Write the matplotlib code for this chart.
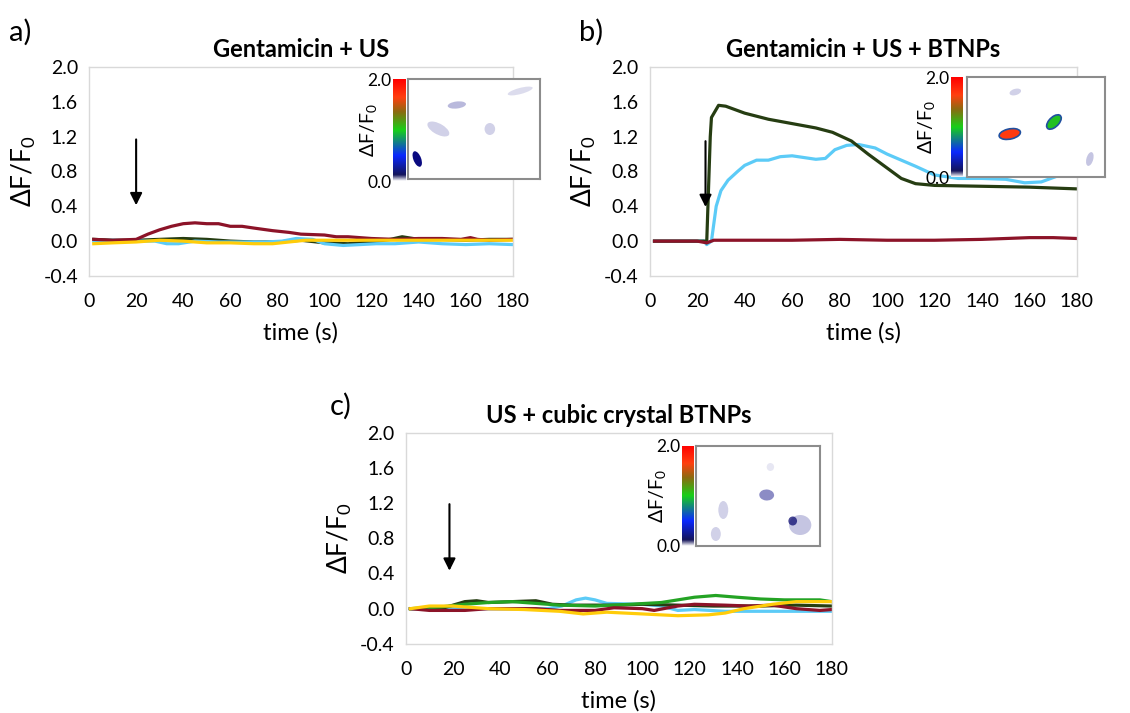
import numpy as np
import matplotlib.pyplot as plt
from matplotlib.colors import LinearSegmentedColormap
from matplotlib.patches import Ellipse

plt.rcParams['font.family'] = ['Lato', 'DejaVu Sans']
plt.rcParams['mathtext.fontset'] = 'custom'
plt.rcParams['mathtext.rm'] = 'Lato'
plt.rcParams['mathtext.it'] = 'Lato'

# colours of the traces
RED = "#8c1328"
DKGREEN = "#263d12"
BLUE = "#5ccbf7"
YELLOW = "#ffcc0a"
GREEN = "#24a324"

# ---- panel a: Gentamicin + US ----
a_red_t = [2, 10, 20, 25, 30, 35, 40, 45, 50, 55, 60, 65, 70, 78, 85, 90, 100, 105, 110, 120, 130, 140, 150, 158, 162, 165, 170, 180]
a_red_y = [0.02, 0.01, 0.02, 0.08, 0.13, 0.17, 0.20, 0.21, 0.20, 0.20, 0.17, 0.17, 0.15, 0.12, 0.10, 0.08, 0.07, 0.05, 0.05, 0.03, 0.02, 0.03, 0.03, 0.02, 0.04, 0.02, 0.01, 0.02]
a_dkg_t = [2, 10, 20, 30, 40, 50, 60, 70, 80, 90, 100, 110, 120, 128, 133, 140, 150, 160, 170, 180]
a_dkg_y = [0.02, 0.01, 0.01, 0.02, 0.03, 0.02, 0.00, -0.01, -0.01, 0.01, -0.02, -0.03, -0.01, 0.02, 0.05, 0.02, 0.02, 0.01, 0.02, 0.02]
a_blu_t = [2, 10, 20, 28, 33, 38, 45, 55, 65, 75, 82, 88, 95, 100, 108, 115, 122, 130, 140, 150, 160, 170, 180]
a_blu_y = [0.00, 0.01, 0.00, 0.00, -0.03, -0.03, 0.00, -0.01, -0.01, -0.01, 0.00, 0.03, 0.02, -0.03, -0.05, -0.04, -0.03, -0.03, -0.01, -0.03, -0.04, -0.03, -0.04]
a_yel_t = [2, 10, 20, 30, 40, 50, 60, 70, 78, 85, 92, 100, 120, 140, 160, 180]
a_yel_y = [-0.03, -0.02, -0.01, 0.01, 0.00, -0.02, -0.02, -0.03, -0.03, -0.01, 0.01, 0.01, 0.01, 0.01, 0.01, 0.01]

# ---- panel b: Gentamicin + US + BTNPs ----
b_red_t = [2, 20, 24, 27, 40, 60, 80, 100, 120, 140, 150, 160, 170, 180]
b_red_y = [0.00, 0.00, -0.02, 0.01, 0.01, 0.01, 0.02, 0.01, 0.01, 0.02, 0.03, 0.04, 0.04, 0.03]
b_dkg_t = [2, 20, 23, 24, 25.5, 26, 29, 32, 40, 50, 60, 70, 77, 85, 92, 100, 106, 112, 120, 140, 160, 180]
b_dkg_y = [0.00, 0.00, 0.00, -0.02, 1.20, 1.42, 1.56, 1.55, 1.47, 1.40, 1.35, 1.30, 1.25, 1.15, 1.00, 0.84, 0.72, 0.66, 0.64, 0.63, 0.62, 0.60]
b_blu_t = [2, 20, 23, 24, 26, 28, 30, 33, 37, 40, 45, 50, 55, 60, 65, 70, 74, 78, 83, 88, 95, 100, 106, 112, 120, 130, 140, 150, 158, 165, 172, 176, 180]
b_blu_y = [0.00, 0.00, 0.00, -0.04, 0.00, 0.40, 0.58, 0.70, 0.80, 0.87, 0.93, 0.93, 0.97, 0.98, 0.96, 0.94, 0.95, 1.05, 1.10, 1.11, 1.07, 1.00, 0.93, 0.86, 0.76, 0.72, 0.72, 0.71, 0.67, 0.68, 0.75, 0.84, 0.91]

# ---- panel c: US + cubic crystal BTNPs ----
c_dkg_t = [2, 15, 25, 30, 35, 45, 55, 62, 70, 90, 100, 115, 130, 150, 165, 180]
c_dkg_y = [0.00, 0.00, 0.08, 0.09, 0.07, 0.08, 0.09, 0.05, 0.04, 0.04, 0.05, 0.04, 0.03, 0.03, 0.04, 0.03]
c_grn_t = [2, 15, 25, 35, 45, 55, 65, 80, 95, 108, 115, 122, 131, 140, 150, 160, 175, 180]
c_grn_y = [0.00, 0.02, 0.05, 0.07, 0.08, 0.06, 0.04, 0.03, 0.05, 0.07, 0.10, 0.13, 0.15, 0.13, 0.11, 0.10, 0.10, 0.08]
c_blu_t = [2, 30, 60, 66, 72, 76, 80, 85, 100, 108, 115, 122, 135, 160, 180]
c_blu_y = [0.00, 0.00, 0.00, 0.03, 0.10, 0.12, 0.10, 0.06, 0.05, 0.03, -0.02, -0.01, -0.03, -0.03, -0.03]
c_red_t = [2, 10, 25, 35, 55, 65, 80, 88, 100, 105, 115, 122, 135, 145, 155, 165, 175, 180]
c_red_y = [0.00, -0.02, -0.02, 0.00, 0.00, -0.02, -0.02, 0.01, 0.00, -0.02, 0.03, 0.05, 0.04, 0.03, 0.04, 0.00, -0.02, -0.01]
c_yel_t = [2, 10, 20, 35, 50, 65, 75, 85, 100, 115, 128, 135, 143, 155, 165, 180]
c_yel_y = [0.00, 0.03, 0.03, 0.00, -0.01, -0.03, -0.06, -0.04, -0.06, -0.08, -0.07, -0.05, 0.00, 0.05, 0.08, 0.08]

xticks = np.arange(0, 181, 20)
yticks = [-0.4, 0.0, 0.4, 0.8, 1.2, 1.6, 2.0]

fig = plt.figure(figsize=(11.3, 7.13), dpi=100)


def style_axes(ax, title):
    ax.set_xlim(0, 180)
    ax.set_ylim(-0.4, 2.0)
    ax.set_xticks(xticks)
    ax.set_yticks(yticks)
    ax.set_yticklabels([f"{v:.1f}" for v in yticks])
    ax.tick_params(length=0, labelsize=14)
    ax.tick_params(axis="x", pad=12)
    ax.tick_params(axis="y", pad=8)
    for s in ax.spines.values():
        s.set_color("#d9d9d9")
        s.set_linewidth(1.0)
    ax.set_xlabel("time (s)", fontsize=17, labelpad=9)
    ax.set_ylabel(r"$\Delta$F/F$_0$", fontsize=19, labelpad=4)
    ax.set_title(title, fontsize=17, fontweight="bold", pad=7)


cmap = LinearSegmentedColormap.from_list(
    "dff", [(0.0, "#ffffff"), (0.06, "#14145a"), (0.25, "#0a28ff"),
            (0.5, "#18d018"), (0.68, "#8c6a10"), (0.82, "#ff4010"), (1.0, "#ff0000")])


def add_inset(fig, cb_rect, im_rect, cells):
    cax = fig.add_axes(cb_rect)
    grad = np.linspace(0, 1, 256).reshape(-1, 1)
    cax.imshow(grad, aspect="auto", cmap=cmap, origin="lower", extent=[0, 1, 0, 2.0])
    cax.set_xticks([])
    cax.yaxis.set_ticks_position("left")
    cax.set_yticks([0.0, 2.0])
    cax.set_yticklabels(["0.0", "2.0"])
    cax.tick_params(length=0, labelsize=12.5, pad=1)
    cax.set_ylim(0, 2.0)
    for s in cax.spines.values():
        s.set_visible(False)
    cax.set_ylabel(r"$\Delta$F/F$_0$", fontsize=14, labelpad=-8)
    iax = fig.add_axes(im_rect)
    iax.set_xlim(0, 1)
    iax.set_ylim(0, 1)
    iax.set_xticks([])
    iax.set_yticks([])
    for s in iax.spines.values():
        s.set_color("#8c8c8c")
        s.set_linewidth(1.5)
    for (x, y, w, h, ang, fc, alpha, ec) in cells:
        iax.add_patch(Ellipse((x, y), w, h, angle=ang, facecolor=fc, alpha=alpha,
                              edgecolor=ec, linewidth=1.2 if ec != "none" else 0))


def arrow(ax, x, y0, y1):
    ax.annotate("", xy=(x, y1), xytext=(x, y0),
                arrowprops=dict(arrowstyle="-|>", color="black", lw=1.5, mutation_scale=18))


LW = 2.3

# panel a
axa = fig.add_axes([0.0788, 0.613, 0.375, 0.293])
axa.plot(a_dkg_t, a_dkg_y, color=DKGREEN, lw=LW)
axa.plot(a_blu_t, a_blu_y, color=BLUE, lw=LW)
axa.plot(a_red_t, a_red_y, color=RED, lw=LW)
axa.plot(a_yel_t, a_yel_y, color=YELLOW, lw=LW)
arrow(axa, 20, 1.2, 0.38)
style_axes(axa, "Gentamicin + US")

# panel b
axb = fig.add_axes([0.575, 0.613, 0.378, 0.293])
axb.plot(b_blu_t, b_blu_y, color=BLUE, lw=LW)
axb.plot(b_dkg_t, b_dkg_y, color=DKGREEN, lw=LW)
axb.plot(b_red_t, b_red_y, color=RED, lw=LW)
arrow(axb, 23.5, 1.18, 0.36)
style_axes(axb, "Gentamicin + US + BTNPs")

# panel c
axc = fig.add_axes([0.359, 0.097, 0.377, 0.296])
axc.plot(c_blu_t, c_blu_y, color=BLUE, lw=LW)
axc.plot(c_dkg_t, c_dkg_y, color=DKGREEN, lw=LW)
axc.plot(c_grn_t, c_grn_y, color=GREEN, lw=LW)
axc.plot(c_red_t, c_red_y, color=RED, lw=LW)
axc.plot(c_yel_t, c_yel_y, color=YELLOW, lw=LW)
arrow(axc, 18.5, 1.22, 0.4)
style_axes(axc, "US + cubic crystal BTNPs")

NAVY = "#1a1a8c"
# insets: (x, y, w, h, angle, colour, alpha, edge)
cells_a = [(0.07, 0.2, 0.06, 0.16, 15, "#0a0a80", 1.0, "none"),
           (0.37, 0.74, 0.14, 0.07, 10, NAVY, 0.3, "none"),
           (0.23, 0.5, 0.2, 0.1, -40, NAVY, 0.2, "none"),
           (0.62, 0.5, 0.08, 0.12, 0, NAVY, 0.2, "none"),
           (0.85, 0.88, 0.2, 0.06, 20, NAVY, 0.15, "none")]
add_inset(fig, [393 / 1130, 1 - 181 / 713, 12 / 1130, 102 / 713],
          [408 / 1130, 1 - 179 / 713, 132 / 1130, 100 / 713], cells_a)

cells_b = [(0.31, 0.43, 0.16, 0.1, 20, "#ff3a10", 1.0, "#2050a0"),
           (0.63, 0.55, 0.08, 0.16, -30, "#22c022", 1.0, "#2050a0"),
           (0.35, 0.85, 0.09, 0.06, 30, NAVY, 0.2, "none"),
           (0.89, 0.18, 0.05, 0.14, -10, NAVY, 0.25, "none")]
add_inset(fig, [951 / 1130, 1 - 177 / 713, 12 / 1130, 100 / 713],
          [967 / 1130, 1 - 177 / 713, 138 / 1130, 100 / 713], cells_b)

cells_c = [(0.22, 0.36, 0.08, 0.18, 0, NAVY, 0.2, "none"),
           (0.16, 0.12, 0.08, 0.14, 0, NAVY, 0.2, "none"),
           (0.57, 0.51, 0.12, 0.11, -10, NAVY, 0.5, "none"),
           (0.60, 0.79, 0.06, 0.08, 0, NAVY, 0.1, "none"),
           (0.84, 0.21, 0.18, 0.2, 0, NAVY, 0.25, "none"),
           (0.78, 0.25, 0.07, 0.09, 0, "#0a0a70", 0.75, "none")]
add_inset(fig, [682 / 1130, 1 - 546 / 713, 12 / 1130, 100 / 713],
          [696 / 1130, 1 - 546 / 713, 124 / 1130, 100 / 713], cells_c)

# panel letters
fig.text(0.008, 0.943, "a)", fontsize=21)
fig.text(0.512, 0.943, "b)", fontsize=21)
fig.text(0.292, 0.418, "c)", fontsize=21)

fig.savefig("out.png", dpi=100)
